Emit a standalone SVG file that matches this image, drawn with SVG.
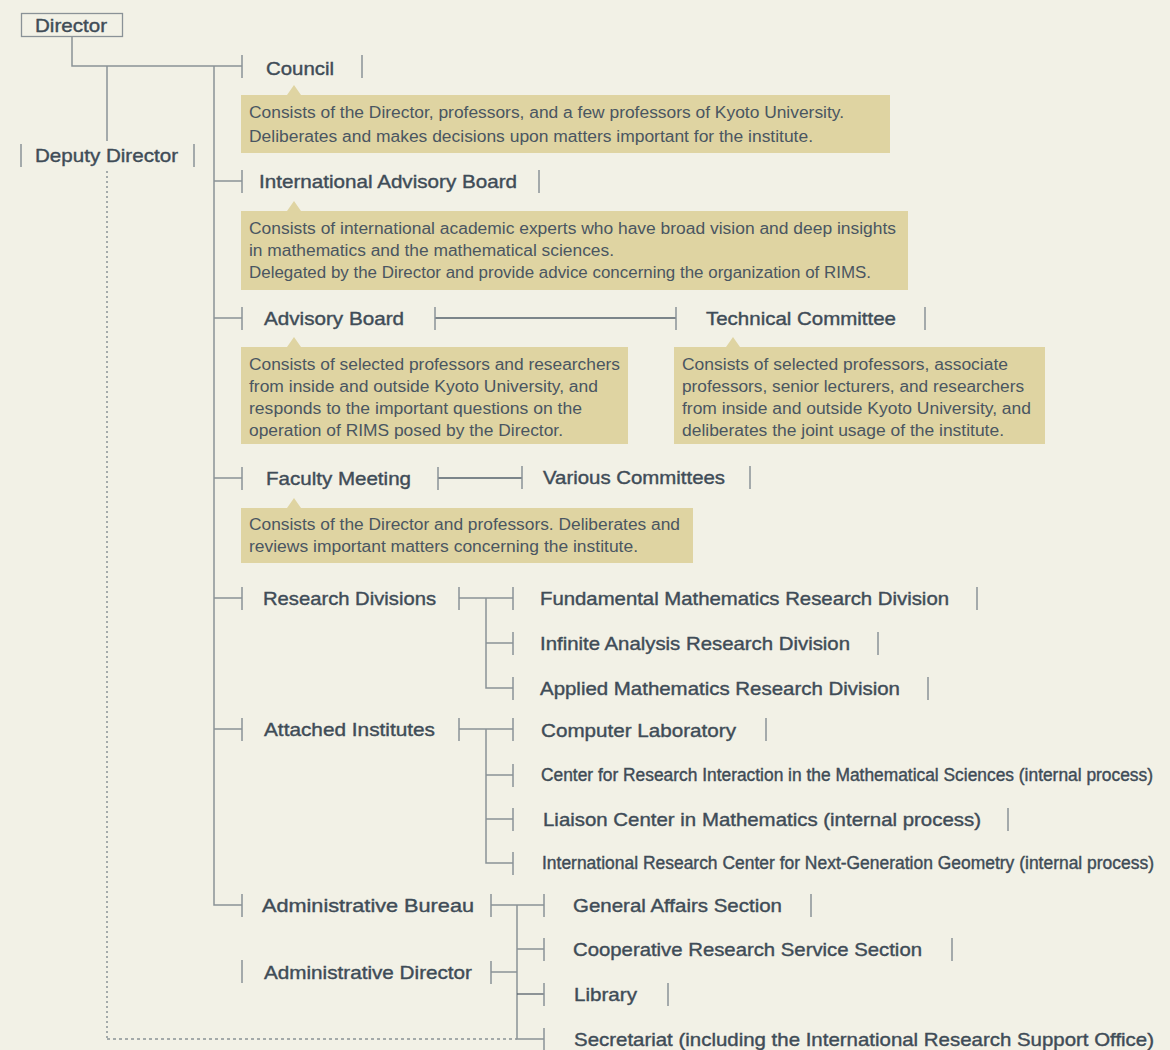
<svg xmlns="http://www.w3.org/2000/svg" width="1170" height="1050" viewBox="0 0 1170 1050">
  <style>
    .ln { fill: none; stroke: #8a9297; stroke-width: 1.5; }
    .dk { fill: none; stroke: #55616b; stroke-width: 1.3; }
    .dot { fill: none; stroke: #8a9297; stroke-width: 1.5; stroke-dasharray: 2 3; }
    .tk { stroke: #8a9297; stroke-width: 1.5; }
    .lb { font-family: "Liberation Sans", Arial, sans-serif; font-size: 19px; fill: #3f4c57; stroke: #3f4c57; stroke-width: 0.4; }
    .nr { font-size: 17.5px; }
    .ds { font-family: "Liberation Sans", Arial, sans-serif; font-size: 16px; fill: #4a5661; }
    .bx { fill: #dfd4a2; }
  </style>
  <rect width="1170" height="1050" fill="#f2f1e6"/>

  <!-- connectors -->
  <g id="connectors">
    <path class="ln" d="M72 37 V66 H242"/>
    <path class="ln" d="M107 66 V141"/>
    <path class="dot" d="M107 171 V1039"/>
    <path class="ln" d="M107 1039 H517" stroke-dasharray="3 3"/>
    <path class="ln" d="M214 66 V905 H242"/>
    <path class="ln" d="M214 181 H242 M214 318 H242 M214 478 H242 M214 598 H242 M214 729 H242"/>
    <path class="dk" d="M435 318 H676"/>
    <path class="dk" d="M438 478 H522"/>
    <path class="ln" d="M459 598 H513 M486 598 V688 H513 M486 643 H513"/>
    <path class="ln" d="M459 729 H513 M486 729 V863 H513 M486 775 H513 M486 819 H513"/>
    <path class="ln" d="M491 905 H544 M517 905 V1039 H544 M517 949 H544 M491 972 H517"/>
    <path class="dk" d="M517 994 H544"/>
  </g>

  <!-- top level -->
  <g id="director">
    <rect x="21.5" y="13.5" width="101" height="23" fill="none" stroke="#8a9297" stroke-width="1.3"/>
    <text class="lb" x="35" y="32" textLength="72" lengthAdjust="spacingAndGlyphs">Director</text>
  </g>

  <g id="deputy-director">
    <line class="tk" x1="21" y1="144" x2="21" y2="167"/>
    <text class="lb" x="35" y="162" textLength="143" lengthAdjust="spacingAndGlyphs">Deputy Director</text>
    <line class="tk" x1="194" y1="144" x2="194" y2="167"/>
  </g>

  <!-- Council -->
  <g id="council">
    <line class="tk" x1="242" y1="55" x2="242" y2="78"/>
    <text class="lb" x="266" y="75" textLength="68" lengthAdjust="spacingAndGlyphs">Council</text>
    <line class="tk" x1="362" y1="55" x2="362" y2="78"/>
    <path class="bx" d="M241 95 H287 L294 85 L301 95 H890 V153 H241 Z"/>
    <text class="ds" x="249" y="118" textLength="595" lengthAdjust="spacingAndGlyphs">Consists of the Director, professors, and a few professors of Kyoto University.</text>
    <text class="ds" x="249" y="142" textLength="564" lengthAdjust="spacingAndGlyphs">Deliberates and makes decisions upon matters important for the institute.</text>
  </g>

  <!-- International Advisory Board -->
  <g id="international-advisory-board">
    <line class="tk" x1="242" y1="170" x2="242" y2="193"/>
    <text class="lb" x="259" y="188" textLength="258" lengthAdjust="spacingAndGlyphs">International Advisory Board</text>
    <line class="tk" x1="539" y1="170" x2="539" y2="193"/>
    <path class="bx" d="M241 211 H287 L294 201 L301 211 H908 V290 H241 Z"/>
    <text class="ds" x="249" y="234" textLength="647" lengthAdjust="spacingAndGlyphs">Consists of international academic experts who have broad vision and deep insights</text>
    <text class="ds" x="249" y="256" textLength="365" lengthAdjust="spacingAndGlyphs">in mathematics and the mathematical sciences.</text>
    <text class="ds" x="249" y="278" textLength="622" lengthAdjust="spacingAndGlyphs">Delegated by the Director and provide advice concerning the organization of RIMS.</text>
  </g>

  <!-- Advisory Board -->
  <g id="advisory-board">
    <line class="tk" x1="242" y1="307" x2="242" y2="330"/>
    <text class="lb" x="264" y="325" textLength="140" lengthAdjust="spacingAndGlyphs">Advisory Board</text>
    <line class="tk" x1="435" y1="307" x2="435" y2="330"/>
    <path class="bx" d="M241 347 H287 L294 337 L301 347 H628 V444 H241 Z"/>
    <text class="ds" x="249" y="370" textLength="371" lengthAdjust="spacingAndGlyphs">Consists of selected professors and researchers</text>
    <text class="ds" x="249" y="392" textLength="349" lengthAdjust="spacingAndGlyphs">from inside and outside Kyoto University, and</text>
    <text class="ds" x="249" y="414" textLength="333" lengthAdjust="spacingAndGlyphs">responds to the important questions on the</text>
    <text class="ds" x="249" y="436" textLength="314" lengthAdjust="spacingAndGlyphs">operation of RIMS posed by the Director.</text>
  </g>

  <!-- Technical Committee -->
  <g id="technical-committee">
    <line class="tk" x1="676" y1="307" x2="676" y2="330"/>
    <text class="lb" x="706" y="325" textLength="190" lengthAdjust="spacingAndGlyphs">Technical Committee</text>
    <line class="tk" x1="925" y1="307" x2="925" y2="330"/>
    <path class="bx" d="M674 347 H726 L733 337 L740 347 H1045 V444 H674 Z"/>
    <text class="ds" x="682" y="370" textLength="326" lengthAdjust="spacingAndGlyphs">Consists of selected professors, associate</text>
    <text class="ds" x="682" y="392" textLength="342" lengthAdjust="spacingAndGlyphs">professors, senior lecturers, and researchers</text>
    <text class="ds" x="682" y="414" textLength="349" lengthAdjust="spacingAndGlyphs">from inside and outside Kyoto University, and</text>
    <text class="ds" x="682" y="436" textLength="322" lengthAdjust="spacingAndGlyphs">deliberates the joint usage of the institute.</text>
  </g>

  <!-- Faculty Meeting -->
  <g id="faculty-meeting">
    <line class="tk" x1="242" y1="467" x2="242" y2="490"/>
    <text class="lb" x="266" y="485" textLength="145" lengthAdjust="spacingAndGlyphs">Faculty Meeting</text>
    <line class="tk" x1="438" y1="467" x2="438" y2="490"/>
    <path class="bx" d="M241 508 H287 L294 498 L301 508 H693 V563 H241 Z"/>
    <text class="ds" x="249" y="530" textLength="431" lengthAdjust="spacingAndGlyphs">Consists of the Director and professors. Deliberates and</text>
    <text class="ds" x="249" y="552" textLength="389" lengthAdjust="spacingAndGlyphs">reviews important matters concerning the institute.</text>
  </g>

  <g id="various-committees">
    <line class="tk" x1="522" y1="466" x2="522" y2="489"/>
    <text class="lb" x="543" y="484" textLength="182" lengthAdjust="spacingAndGlyphs">Various Committees</text>
    <line class="tk" x1="750" y1="466" x2="750" y2="489"/>
  </g>

  <!-- Research Divisions -->
  <g id="research-divisions">
    <line class="tk" x1="242" y1="587" x2="242" y2="610"/>
    <text class="lb" x="263" y="605" textLength="173" lengthAdjust="spacingAndGlyphs">Research Divisions</text>
    <line class="tk" x1="459" y1="587" x2="459" y2="610"/>
  </g>
  <g id="fundamental-mathematics">
    <line class="tk" x1="513" y1="587" x2="513" y2="610"/>
    <text class="lb" x="540" y="605" textLength="409" lengthAdjust="spacingAndGlyphs">Fundamental Mathematics Research Division</text>
    <line class="tk" x1="977" y1="587" x2="977" y2="610"/>
  </g>
  <g id="infinite-analysis">
    <line class="tk" x1="513" y1="632" x2="513" y2="655"/>
    <text class="lb" x="540" y="650" textLength="310" lengthAdjust="spacingAndGlyphs">Infinite Analysis Research Division</text>
    <line class="tk" x1="878" y1="632" x2="878" y2="655"/>
  </g>
  <g id="applied-mathematics">
    <line class="tk" x1="513" y1="677" x2="513" y2="700"/>
    <text class="lb" x="540" y="695" textLength="360" lengthAdjust="spacingAndGlyphs">Applied Mathematics Research Division</text>
    <line class="tk" x1="928" y1="677" x2="928" y2="700"/>
  </g>

  <!-- Attached Institutes -->
  <g id="attached-institutes">
    <line class="tk" x1="242" y1="718" x2="242" y2="741"/>
    <text class="lb" x="264" y="736" textLength="171" lengthAdjust="spacingAndGlyphs">Attached Institutes</text>
    <line class="tk" x1="459" y1="718" x2="459" y2="741"/>
  </g>
  <g id="computer-laboratory">
    <line class="tk" x1="513" y1="718" x2="513" y2="741"/>
    <text class="lb" x="541" y="737" textLength="195" lengthAdjust="spacingAndGlyphs">Computer Laboratory</text>
    <line class="tk" x1="766" y1="718" x2="766" y2="741"/>
  </g>
  <g id="center-research-interaction">
    <line class="tk" x1="513" y1="764" x2="513" y2="787"/>
    <text class="lb nr" x="541" y="781" textLength="612" lengthAdjust="spacingAndGlyphs">Center for Research Interaction in the Mathematical Sciences (internal process)</text>
  </g>
  <g id="liaison-center">
    <line class="tk" x1="513" y1="808" x2="513" y2="831"/>
    <text class="lb" x="543" y="826" textLength="438" lengthAdjust="spacingAndGlyphs">Liaison Center in Mathematics (internal process)</text>
    <line class="tk" x1="1008" y1="808" x2="1008" y2="831"/>
  </g>
  <g id="next-generation-geometry">
    <line class="tk" x1="513" y1="852" x2="513" y2="875"/>
    <text class="lb nr" x="542" y="869" textLength="612" lengthAdjust="spacingAndGlyphs">International Research Center for Next-Generation Geometry (internal process)</text>
  </g>

  <!-- Administration -->
  <g id="administrative-bureau">
    <line class="tk" x1="242" y1="894" x2="242" y2="917"/>
    <text class="lb" x="262" y="912" textLength="212" lengthAdjust="spacingAndGlyphs">Administrative Bureau</text>
    <line class="tk" x1="491" y1="894" x2="491" y2="917"/>
  </g>
  <g id="administrative-director">
    <line class="tk" x1="242" y1="960" x2="242" y2="983"/>
    <text class="lb" x="264" y="979" textLength="208" lengthAdjust="spacingAndGlyphs">Administrative Director</text>
    <line class="tk" x1="491" y1="961" x2="491" y2="984"/>
  </g>
  <g id="general-affairs">
    <line class="tk" x1="544" y1="894" x2="544" y2="917"/>
    <text class="lb" x="573" y="912" textLength="209" lengthAdjust="spacingAndGlyphs">General Affairs Section</text>
    <line class="tk" x1="811" y1="894" x2="811" y2="917"/>
  </g>
  <g id="cooperative-research">
    <line class="tk" x1="544" y1="938" x2="544" y2="961"/>
    <text class="lb" x="573" y="956" textLength="349" lengthAdjust="spacingAndGlyphs">Cooperative Research Service Section</text>
    <line class="tk" x1="952" y1="938" x2="952" y2="961"/>
  </g>
  <g id="library">
    <line class="tk" x1="544" y1="983" x2="544" y2="1006"/>
    <text class="lb" x="574" y="1001" textLength="63" lengthAdjust="spacingAndGlyphs">Library</text>
    <line class="tk" x1="668" y1="983" x2="668" y2="1006"/>
  </g>
  <g id="secretariat">
    <line class="tk" x1="544" y1="1028" x2="544" y2="1051"/>
    <text class="lb" x="574" y="1046" textLength="580" lengthAdjust="spacingAndGlyphs">Secretariat (including the International Research Support Office)</text>
  </g>
</svg>
